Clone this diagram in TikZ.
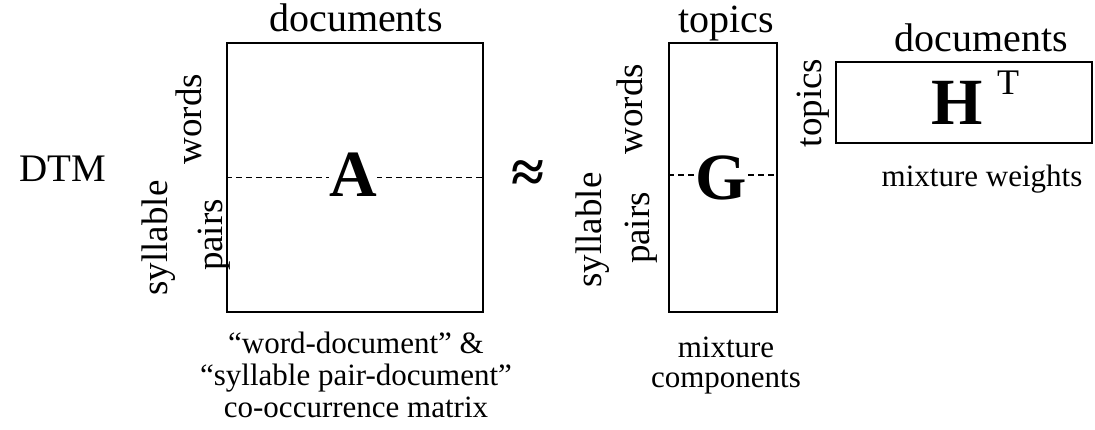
\documentclass[tikz,border=0pt]{standalone}
\usepackage{fontspec}
\setmainfont{Liberation Serif}
\begin{document}
\begin{tikzpicture}[x=1pt,y=-1pt,
  mat/.style={draw,line width=1.5pt,inner sep=0pt},
  lab/.style={font=\fontsize{40}{48}\selectfont,inner sep=0pt,anchor=base},
  side/.style={font=\fontsize{37}{44}\selectfont,inner sep=0pt,rotate=90,anchor=base},
  big/.style={font=\fontsize{66}{70}\selectfont\bfseries,fill=white,inner sep=0pt,anchor=base},
  captext/.style={font=\fontsize{31}{36}\selectfont,inner sep=0pt,anchor=base},
  split/.style={dash pattern=on 6pt off 4pt,line width=1.2pt}]
\useasboundingbox (0,0) rectangle (1095,430);
% matrices
\node[mat,minimum width=256pt,minimum height=269pt] (matA) at (355,177.5) {};
\node[mat,minimum width=108pt,minimum height=269pt] (matG) at (723,177.5) {};
\node[mat,minimum width=256pt,minimum height=81pt] (matH) at (964,102.5) {};
% split lines
\draw[split] (matA.west) -- (matA.east);
\draw[split] ([yshift=2.5pt]matG.west) -- ([yshift=2.5pt]matG.east);
% matrix letters
\node[big] (lA) at (353,197) {A};
\node[big] (lG) at (721,200) {G};
\node[big,fill=none] (lH) at (957,125) {H};
\node[font=\fontsize{36}{40}\selectfont,inner sep=0pt,anchor=base] (lT) at (1008,95) {T};
% top labels
\node[lab] (docA) at (356,32) {documents};
\node[lab] (topG) at (726,33) {topics};
\node[lab] (docH) at (981,52) {documents};
% DTM and approx
\node[font=\fontsize{39}{44}\selectfont,inner sep=0pt,anchor=base] (dtm) at (63,182) {DTM};
\node[font=\fontsize{60}{64}\selectfont\bfseries,inner sep=0pt] (approx) at (528,177) {≈};
% side labels
\node[side] (wA) at (201,119) {words};
\node[side] (sA) at (167,238) {syllable};
\node[side] (pA) at (222,235) {pairs};
\node[side] (wG) at (642,109) {words};
\node[side] (sG) at (601,230) {syllable};
\node[side] (pG) at (649,228) {pairs};
\node[side] (tH) at (821,103) {topics};
% captions
\node[captext] (c1) at (356,353) {“word-document” \&};
\node[captext] (c2) at (356,385) {“syllable pair-document”};
\node[captext] (c3) at (356,417) {co-occurrence matrix};
\node[captext] (m1) at (726,357) {mixture};
\node[captext] (m2) at (726,387) {components};
\node[captext] (mw) at (982,187) {mixture weights};
\end{tikzpicture}
\end{document}
